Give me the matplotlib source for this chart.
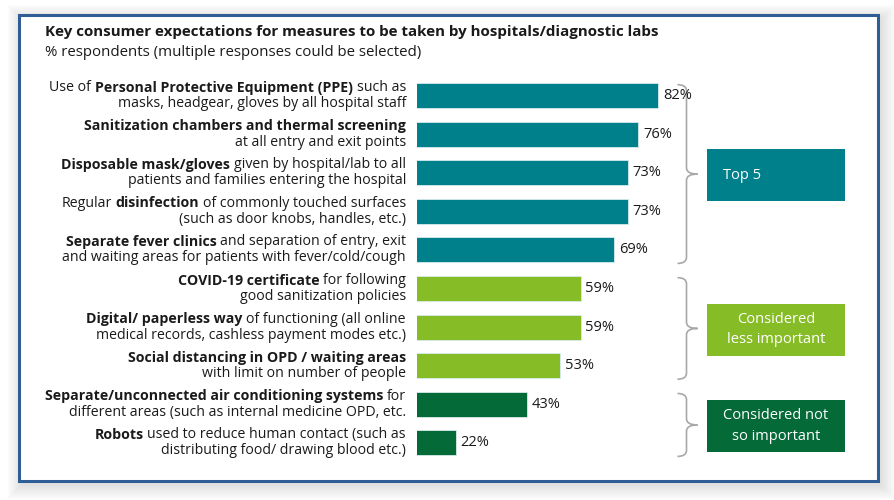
import matplotlib.pyplot as plt
import matplotlib.transforms as mtransforms
from matplotlib.patches import Rectangle, PathPatch
from matplotlib.path import Path
from matplotlib.font_manager import FontProperties

FAMILY = ['Open Sans', 'DejaVu Sans']
plt.rcParams['font.family'] = FAMILY

W, H = 895, 500

# chart data
values = [82, 76, 73, 73, 69, 59, 59, 53, 43, 22]
groups = [0, 0, 0, 0, 0, 1, 1, 1, 2, 2]
group_names = ["Top 5", "Considered\nless important", "Considered not\nso important"]
group_colors = ["#00808A", "#86BC25", "#046A38"]

# each label: two lines, each line a list of (text, bold)
labels = [
    [[("Use of ", False), ("Personal Protective Equipment (PPE)", True), (" such as", False)],
     [("masks, headgear, gloves by all hospital staff", False)]],
    [[("Sanitization chambers and thermal screening", True)],
     [("at all entry and exit points", False)]],
    [[("Disposable mask/gloves", True), (" given by hospital/lab to all", False)],
     [("patients and families entering the hospital", False)]],
    [[("Regular ", False), ("disinfection", True), (" of commonly touched surfaces", False)],
     [("(such as door knobs, handles, etc.)", False)]],
    [[("Separate fever clinics", True), (" and separation of entry, exit", False)],
     [("and waiting areas for patients with fever/cold/cough", False)]],
    [[("COVID-19 certificate", True), (" for following", False)],
     [("good sanitization policies", False)]],
    [[("Digital/ paperless way", True), (" of functioning (all online", False)],
     [("medical records, cashless payment modes etc.)", False)]],
    [[("Social distancing in OPD / waiting areas", True)],
     [("with limit on number of people", False)]],
    [[("Separate/unconnected air conditioning systems", True), (" for", False)],
     [("different areas (such as internal medicine OPD, etc.", False)]],
    [[("Robots", True), (" used to reduce human contact (such as", False)],
     [("distributing food/ drawing blood etc.)", False)]],
]

title = "Key consumer expectations for measures to be taken by hospitals/diagnostic labs"
subtitle = "% respondents (multiple responses could be selected)"

fig = plt.figure(figsize=(W / 100, H / 100), dpi=100)
# pixel coordinates, origin top-left
tp = mtransforms.Affine2D().scale(1 / W, -1 / H).translate(0, 1) + fig.transFigure

# soft shadow + frame
for k in range(1, 15):
    fig.add_artist(Rectangle((19.5 + 3 - k, 14.5 + 4 - k), 859 + 2 * k, 466.5 + 2 * k,
                             transform=tp, facecolor="#7a7a7a", edgecolor="none",
                             alpha=0.016, zorder=-3))
fig.add_artist(Rectangle((19.5, 14.5), 859, 466.5, transform=tp, facecolor="white",
                         edgecolor="#2F5D96", lw=2.2, zorder=-1))

ax = fig.add_axes([417 / W, 1 - 462.2 / H, 443 / W, 386 / H])
ax.set_xlim(10.6, 10.6 + 443 / 3.38)
ax.set_ylim(9.5, -0.5)
ax.axis("off")

rows = list(range(len(values)))
colors = [group_colors[g] for g in groups]
ax.barh(rows, values, height=0.65, color=colors, edgecolor="#d8ecee", lw=0.6)

for i, v in enumerate(values):
    ax.annotate(f"{v}%", xy=(v, i), xytext=(3.5, 0), textcoords="offset points",
                ha="left", va="center", fontsize=10.5, color="#1a1a1a",
                annotation_clip=False)

bt = mtransforms.blended_transform_factory(tp, ax.transData)

# mixed bold / regular labels, right aligned at x=406 px
fs = 10.2
renderer = fig.canvas.get_renderer()


def advance(s, bold):
    fp = FontProperties(family=FAMILY, size=fs, weight="bold" if bold else "normal")
    w1 = renderer.get_text_width_height_descent("|" + s + "|", fp, False)[0]
    w0 = renderer.get_text_width_height_descent("||", fp, False)[0]
    return w1 - w0


for i, lines in enumerate(labels):
    for j, segs in enumerate(lines):
        y = i - 0.205 if j == 0 else i + 0.205
        advs = [advance(t, b) for t, b in segs]
        x = 406 - sum(advs)
        for (text, bold), a in zip(segs, advs):
            lead = len(text) - len(text.lstrip(" "))
            xs = x + (advance(" " * lead, bold) if lead else 0)
            ax.text(xs, y, text.strip(" "), transform=bt, ha="left", va="center",
                    fontsize=fs, fontweight="bold" if bold else "normal",
                    color="#1a1a1a")
            x += a


# braces and group boxes
def brace(y0, y1, xs=686.5, hook=9, tip=11, r=0.16):
    ym = (y0 + y1) / 2
    verts = [(xs - hook, y0), (xs, y0), (xs, y0 + r), (xs, ym - r),
             (xs, ym), (xs + tip, ym), (xs, ym), (xs, ym + r),
             (xs, y1 - r), (xs, y1), (xs - hook, y1)]
    codes = [Path.MOVETO, Path.CURVE3, Path.CURVE3, Path.LINETO,
             Path.CURVE3, Path.CURVE3, Path.CURVE3, Path.CURVE3,
             Path.LINETO, Path.CURVE3, Path.CURVE3]
    ax.add_patch(PathPatch(Path(verts, codes), transform=bt, facecolor="none",
                           edgecolor="#A8A8A8", lw=1.2, clip_on=False))
    return ym


for g, name in enumerate(group_names):
    idx = [i for i in rows if groups[i] == g]
    ym = brace(idx[0] - 0.28, idx[-1] + 0.35)
    yb = ym + 0.03
    ax.add_patch(Rectangle((707, yb - 0.675), 138, 1.35, transform=bt,
                           facecolor=group_colors[g], edgecolor="none", clip_on=False))
    if g == 0:
        ax.text(723, yb, name, transform=bt, ha="left", va="center",
                fontsize=10.5, color="white")
    else:
        ax.text(776, yb, name, transform=bt, ha="center", va="center",
                fontsize=10.5, color="white", linespacing=1.5)

fig.text(45, 32, title, transform=tp, ha="left", va="center", fontsize=10.9,
         fontweight="bold", color="#1a1a1a")
fig.text(45, 53, subtitle, transform=tp, ha="left", va="center", fontsize=10.85,
         color="#1a1a1a")

fig.savefig("out.png", dpi=100)
